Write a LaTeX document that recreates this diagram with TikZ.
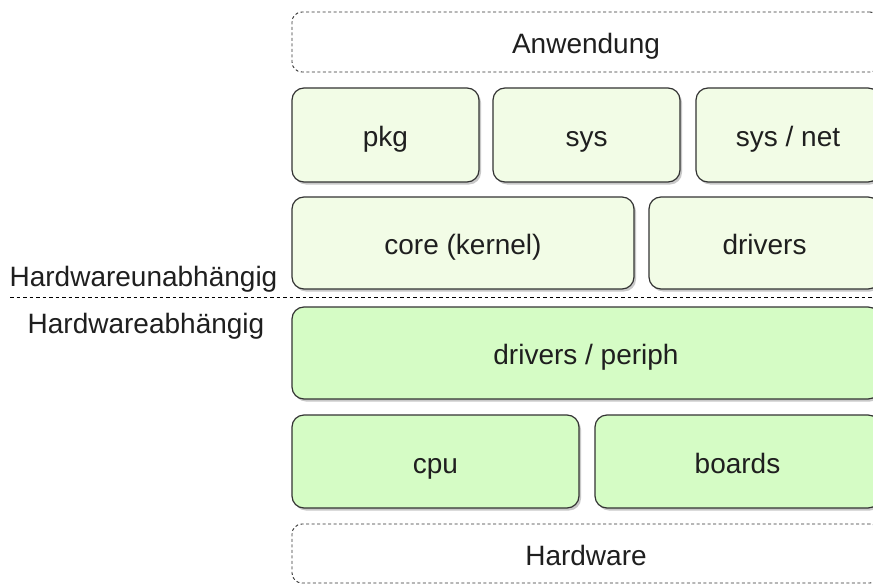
\documentclass[tikz,border=0pt]{standalone}
\usepackage{fontspec}
\setmainfont{Liberation Sans}
\usetikzlibrary{shadows}
\definecolor{lightg}{HTML}{F2FCE6}
\definecolor{darkg}{HTML}{D5FCC5}
\definecolor{edge}{HTML}{333333}
\begin{document}
\begin{tikzpicture}[x=1pt,y=-1pt,
  every node/.style={font=\fontsize{28}{32}\selectfont, text=black!88, inner sep=0pt},
  boxtext/.style={text height=23pt, text depth=0pt},
  layer/.style={boxtext, draw=edge, line width=1.2pt, rounded corners=12pt,
    drop shadow={shadow xshift=2pt, shadow yshift=-2.5pt, opacity=0.3, fill=black!70}},
  upper/.style={layer, fill=lightg},
  lower/.style={layer, fill=darkg},
  extbox/.style={boxtext, draw=edge, line width=0.9pt, dash pattern=on 3pt off 2.5pt, rounded corners=10pt, fill=white},
  sep/.style={draw=black, line width=1pt, dash pattern=on 3.5pt off 3pt}
]
\useasboundingbox (0,0) rectangle (873,586);
\clip (0,0) rectangle (873,586);
\fill[white] (0,0) rectangle (873,586);

\node[extbox, minimum width=588pt, minimum height=60pt] (anw) at (586,42) {Anwendung};

\node[upper, minimum width=187pt, minimum height=94pt] (pkg) at (385.5,135) {pkg};
\node[upper, minimum width=187pt, minimum height=94pt] (sys) at (586.5,135) {sys};
\node[upper, minimum width=184pt, minimum height=94pt] (sysnet) at (788,135) {sys / net};

\node[upper, minimum width=342pt, minimum height=92pt] (core) at (463,243) {core (kernel)};
\node[upper, minimum width=231pt, minimum height=92pt] (drv) at (764.5,243) {drivers};

\coordinate (dl) at (10,297);
\coordinate (dr) at (880,297);
\draw[sep] (dl) -- (dr);

\node[anchor=base] (hu) at (143.5,286) {Hardwareunabhängig};
\node[anchor=base] (ha) at (146,333) {Hardwareabhängig};

\node[lower, minimum width=588pt, minimum height=92pt] (dp) at (586,353) {drivers / periph};

\node[lower, minimum width=287pt, minimum height=93pt] (cpu) at (435.5,461.5) {cpu};
\node[lower, minimum width=285pt, minimum height=93pt] (boards) at (737.5,461.5) {boards};

\node[extbox, minimum width=588pt, minimum height=59pt] (hw) at (586,553.5) {Hardware};
\end{tikzpicture}
\end{document}
